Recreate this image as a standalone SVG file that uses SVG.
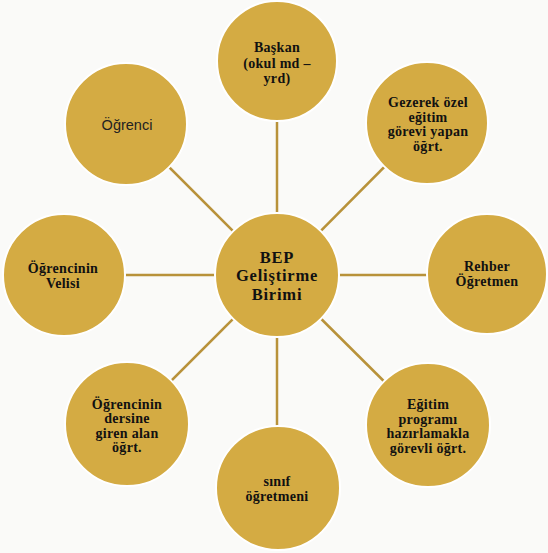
<svg xmlns="http://www.w3.org/2000/svg" width="548" height="553" viewBox="0 0 548 553">
<style>
.bg{fill:#fafaf8}
.spoke{stroke:#b8923a;stroke-width:2.5}
.node{fill:#d4ab43;stroke:#ffffff;stroke-width:2}
.t{font-family:"Liberation Serif","Times New Roman",serif;font-weight:bold;font-size:14px;letter-spacing:0.3px;fill:#111;text-anchor:middle}
.c{font-size:16.5px;letter-spacing:0.8px}
.s{font-family:"Liberation Sans",Arial,sans-serif;font-weight:normal;font-size:14.5px;fill:#222;text-anchor:middle}
</style>
<rect class="bg" x="0" y="0" width="548" height="553"/>
<g id="connectors">
<line class="spoke" x1="277" y1="275" x2="277" y2="62"/>
<line class="spoke" x1="277" y1="275" x2="427" y2="124"/>
<line class="spoke" x1="277" y1="275" x2="487" y2="275"/>
<line class="spoke" x1="277" y1="275" x2="428" y2="425"/>
<line class="spoke" x1="277" y1="275" x2="277" y2="489"/>
<line class="spoke" x1="277" y1="275" x2="127" y2="425"/>
<line class="spoke" x1="277" y1="275" x2="64" y2="275"/>
<line class="spoke" x1="277" y1="275" x2="126" y2="124"/>
</g>
<g id="center">
<circle class="node" cx="277" cy="275" r="62"/>
<text class="t c" x="277" y="262.5">BEP</text>
<text class="t c" x="277" y="281">Geliştirme</text>
<text class="t c" x="277" y="299.5">Birimi</text>
</g>
<g id="baskan">
<circle class="node" cx="277" cy="61" r="60"/>
<text class="t" x="277" y="52">Başkan</text>
<text class="t" x="277" y="67.5">(okul md –</text>
<text class="t" x="277" y="83">yrd)</text>
</g>
<g id="gezerek">
<circle class="node" cx="427" cy="123" r="61"/>
<text class="t" x="428" y="107">Gezerek özel</text>
<text class="t" x="428" y="121.5">eğitim</text>
<text class="t" x="428" y="136">görevi yapan</text>
<text class="t" x="428" y="150.5">öğrt.</text>
</g>
<g id="rehber">
<circle class="node" cx="487" cy="274" r="60"/>
<text class="t" x="487" y="271">Rehber</text>
<text class="t" x="487" y="286">Öğretmen</text>
</g>
<g id="egitim">
<circle class="node" cx="428" cy="425" r="62"/>
<text class="t" x="428" y="409">Eğitim</text>
<text class="t" x="428" y="423.5">programı</text>
<text class="t" x="428" y="438">hazırlamakla</text>
<text class="t" x="428" y="452.5">görevli öğrt.</text>
</g>
<g id="sinif">
<circle class="node" cx="278" cy="488" r="62"/>
<text class="t" x="277" y="486">sınıf</text>
<text class="t" x="277" y="500.5">öğretmeni</text>
</g>
<g id="alan">
<circle class="node" cx="127" cy="424" r="62"/>
<text class="t" x="127" y="408.5">Öğrencinin</text>
<text class="t" x="127" y="423">dersine</text>
<text class="t" x="127" y="437.5">giren alan</text>
<text class="t" x="127" y="452">öğrt.</text>
</g>
<g id="veli">
<circle class="node" cx="64" cy="275" r="61"/>
<text class="t" x="63" y="273">Öğrencinin</text>
<text class="t" x="63" y="287.5">Velisi</text>
</g>
<g id="ogrenci">
<circle class="node" cx="126" cy="124" r="61"/>
<text class="s" x="127" y="130">Öğrenci</text>
</g>
</svg>
